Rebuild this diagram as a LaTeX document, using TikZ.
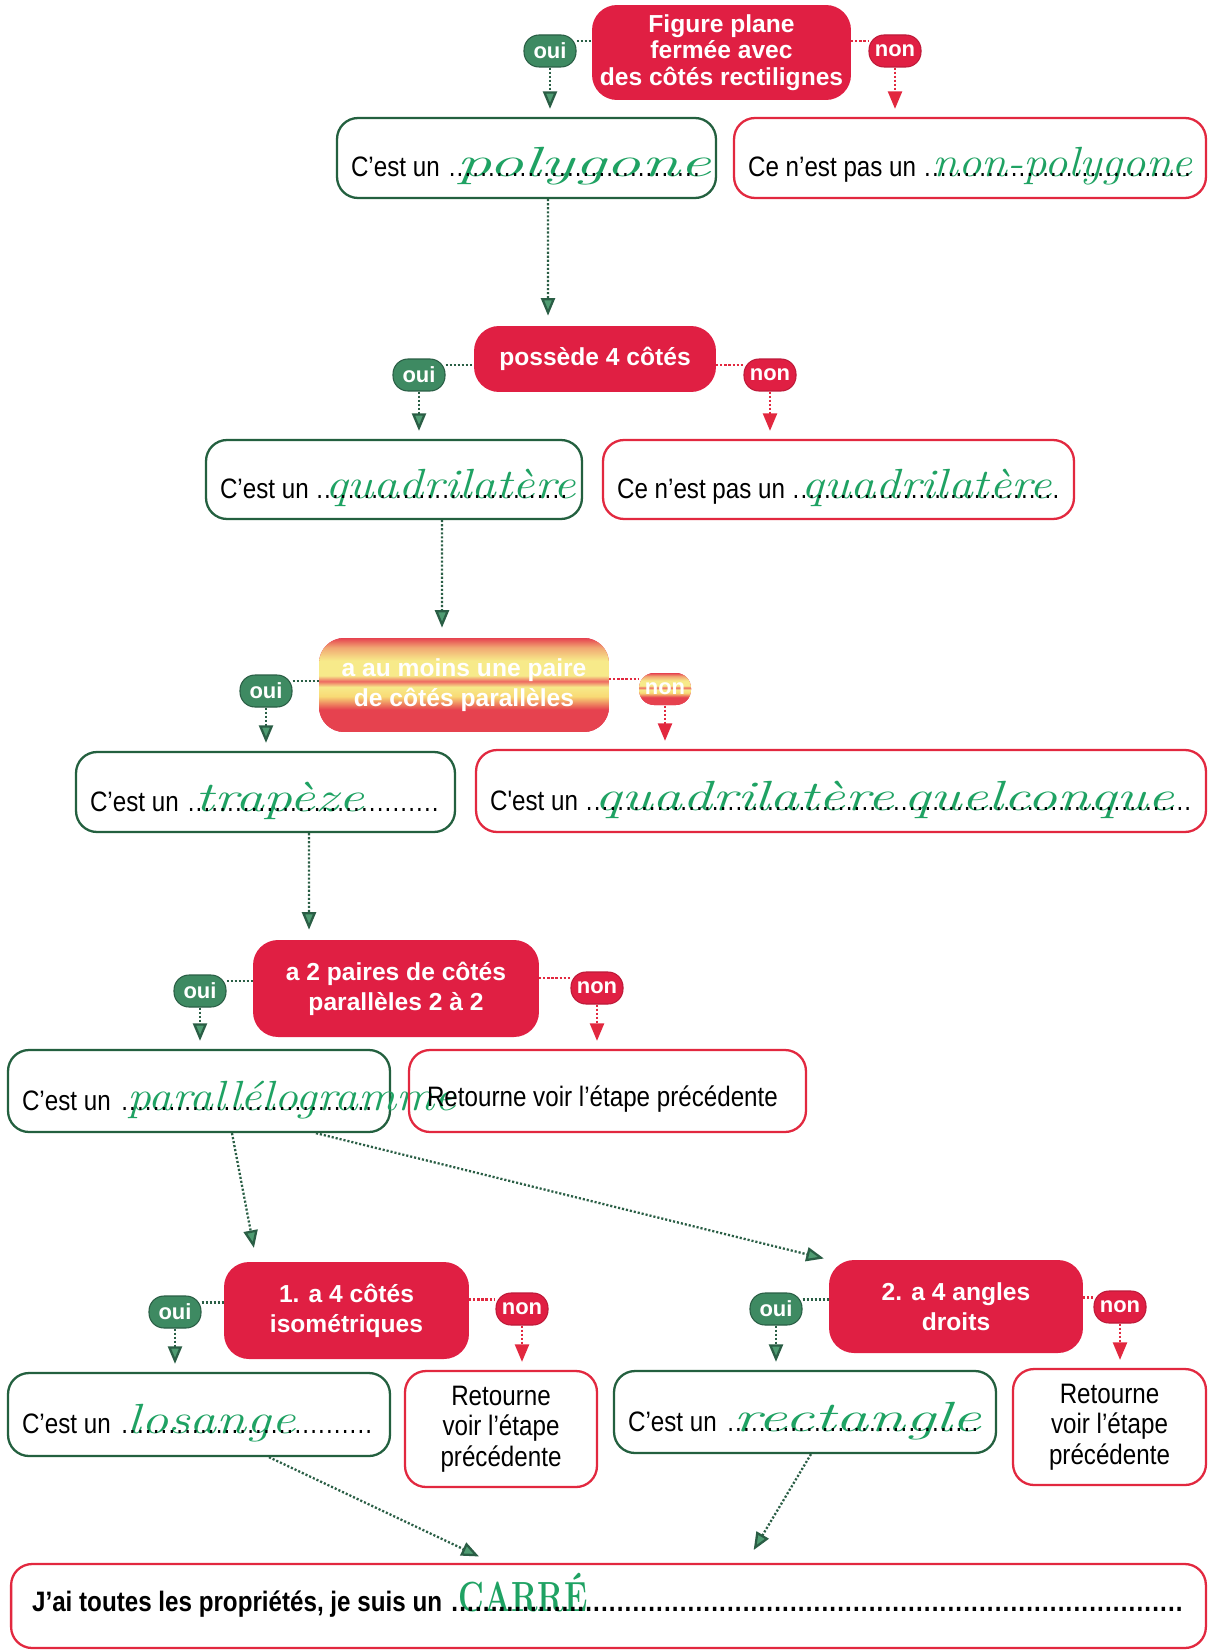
\documentclass[tikz,border=0pt]{standalone}
\usepackage{fontspec}
\usepackage{graphicx}
\usepackage{tikz}
\usetikzlibrary{arrows.meta}
\newfontfamily\bodyfamily{Liberation Sans}[FakeStretch=0.86]
\newfontfamily\qfamily{Liberation Sans}
\definecolor{qred}{HTML}{E01F43}
\definecolor{boxred}{HTML}{E2283F}
\definecolor{boxgreen}{HTML}{23603F}
\definecolor{ouigreen}{HTML}{3E8A62}
\definecolor{tipgreen}{HTML}{4F9C72}
\definecolor{dotgreen}{HTML}{2A5E45}
\definecolor{hand}{HTML}{1FA263}
\definecolor{stripeY}{HTML}{F7EA8A}
\definecolor{stripeR}{HTML}{E6424F}
\definecolor{stripeM}{HTML}{EE6A62}
\newcommand{\bodyfont}{\bodyfamily\fontsize{16}{17.5}\selectfont}
\newcommand{\carrefont}{\bodyfamily\bfseries\fontsize{16}{17.5}\selectfont}
\newcommand{\qfont}{\qfamily\bfseries\fontsize{14}{17}\selectfont}
\newcommand{\handfont}{\color{hand}\rmfamily\itshape\fontsize{24}{24}\selectfont}
% handwritten answer, stretched to the width it takes on the sheet
\newcommand{\hw}[2]{\resizebox{#1}{\height}{\handfont #2}}
\newcommand{\dotleaders}{\cleaders\hbox to 0.28em{\hss.\hss}\hskip 0pt plus 1filll\kern0pt}
\newcommand{\fillin}[2]{\rlap{\kern0.2cm\hw{#1}{#2}}\dotleaders}
\newcommand{\tightspace}{\spaceskip=0.24em\relax\xspaceskip=0.3em\relax}
% the badly printed yellow/red box
\pgfdeclareverticalshading{paleband}{100bp}{color(0bp)=(stripeR); color(25bp)=(stripeR); color(37bp)=(stripeR); color(44bp)=(stripeY!85!orange); color(49bp)=(stripeY); color(52bp)=(stripeM); color(55bp)=(stripeY); color(63bp)=(stripeY); color(70bp)=(stripeY!60!stripeR); color(75bp)=(stripeR); color(100bp)=(stripeR)}
\begin{document}
\begin{tikzpicture}[x=0.02cm, y=-0.02cm,
  qbox/.style={rounded corners=0.5cm, fill=qred, text=white, font=\qfont, align=center, inner sep=0pt},
  yesbox/.style={draw=boxgreen, line width=1.3pt, rounded corners=0.42cm, font=\bodyfont, align=left,
    text width=#1, inner xsep=0.28cm, inner ysep=0pt, minimum height=1.6cm, text height=0.86cm, text depth=0.1cm,
    execute at begin node=\tightspace},
  nobox/.style={yesbox=#1, draw=boxred},
  backbox/.style={draw=boxred, line width=1.3pt, rounded corners=0.42cm, font=\bodyfont, align=center, inner sep=0pt,
    execute at begin node=\tightspace},
  ouibub/.style={rounded corners=0.3cm, fill=ouigreen, draw=dotgreen, line width=0.6pt, text=white,
    font=\qfamily\bfseries\fontsize{12.5}{13}\selectfont, minimum width=1.04cm, minimum height=0.64cm, inner sep=0pt},
  nonbub/.style={ouibub, fill=qred, draw=qred!85!black},
  ouiline/.style={draw=dotgreen, line width=1.3pt, dash pattern=on 1.2pt off 1.1pt},
  nonline/.style={ouiline, draw=boxred},
  ouiarrow/.style={ouiline, -{Triangle[width=8pt, length=10pt, fill=tipgreen]}, shorten >=0.16cm},
  nonarrow/.style={nonline, -{Triangle[width=8pt, length=10pt, fill=boxred]}, shorten >=0.16cm},
]
\fill[white] (0,0) rectangle (1208,1652);
\useasboundingbox (0,0) rectangle (1208,1652);

% questions
\node[qbox, font=\qfamily\bfseries\fontsize{14}{15}\selectfont, minimum width=5.18cm, minimum height=1.9cm] (q1) at (721.5,52.5) {Figure plane\\fermée avec\\des côtés rectilignes};
\node[qbox, minimum width=4.84cm, minimum height=1.32cm] (q2) at (595,359) {possède 4 côtés};
\node[qbox, shade, shading=paleband, minimum width=5.8cm, minimum height=1.88cm] (q3) at (464,685) {a au moins une paire\\de côtés parallèles};
\node[qbox, minimum width=5.72cm, minimum height=1.94cm] (q4) at (396,988.5) {a 2 paires de côtés\\parallèles 2 à 2};
\node[qbox, minimum width=4.9cm, minimum height=1.94cm] (q5) at (346.5,1310.5) {1. a 4 côtés\\isométriques};
\node[qbox, minimum width=5.08cm, minimum height=1.86cm] (q6) at (956,1306.5) {2. a 4 angles\\droits};

% oui / non bubbles
\node[ouibub] (oui1) at (550,51) {oui};   \node[nonbub] (non1) at (895,51) {non};
\node[ouibub] (oui2) at (419,375) {oui};  \node[nonbub] (non2) at (770,375) {non};
\node[ouibub] (oui3) at (266,691) {oui};  \node[nonbub, shade, shading=paleband, draw=none] (non3) at (665,689) {non};
\node[ouibub] (oui4) at (200,991) {oui};  \node[nonbub] (non4) at (597,988) {non};
\node[ouibub] (oui5) at (175,1312) {oui}; \node[nonbub] (non5) at (522,1309) {non};
\node[ouibub] (oui6) at (776,1309) {oui}; \node[nonbub] (non6) at (1120,1307) {non};

% answer boxes
\node[yesbox=7.02cm] (poly) at (526.5,158) {C’est un \fillin{5.1cm}{polygone}};
\node[nobox=8.88cm] (nonpoly) at (970,158) {Ce n’est pas un \fillin{5.2cm}{non-polygone}};
\node[yesbox=6.96cm, minimum height=1.58cm] (quad) at (394,479.5) {C’est un \fillin{5cm}{quadrilatère}};
\node[nobox=8.86cm, minimum height=1.58cm] (nonquad) at (838.5,479.5) {Ce n’est pas un \fillin{5cm}{quadrilatère}};
\node[yesbox=7.02cm] (trap) at (265.5,792) {C’est un \fillin{3.38cm}{trapèze}};
\node[nobox=14.04cm, minimum height=1.64cm] (quelc) at (841,791) {C'est un \fillin{11.6cm}{quadrilatère quelconque}};
\node[yesbox=7.08cm, minimum height=1.64cm] (para) at (199,1091) {C’est un \fillin{6.56cm}{parallélogramme}};
\node[backbox, align=left, text width=7.22cm, inner xsep=0.36cm, minimum height=1.64cm, text height=0.72cm, text depth=0.1cm] (retA) at (607.5,1091) {Retourne voir l’étape précédente};
\node[yesbox=7.08cm, minimum height=1.66cm] (los) at (199,1414.5) {C’est un \fillin{3.36cm}{losange}};
\node[backbox, minimum width=3.84cm, minimum height=2.32cm] (retB) at (501,1429) {Retourne\\voir l’étape\\précédente};
\node[yesbox=7.08cm, minimum height=1.64cm] (rect) at (805,1412) {C’est un \fillin{4.96cm}{rectangle}};
\node[backbox, minimum width=3.86cm, minimum height=2.32cm] (retC) at (1109.5,1427) {Retourne\\voir l’étape\\précédente};
\node[nobox=23.06cm, font=\carrefont, inner xsep=0.42cm, minimum height=1.68cm, text height=0.5cm, text depth=0.3cm] (carre) at (608.5,1606) {J’ai toutes les propriétés, je suis un \fillin{2.58cm}{\upshape CARRÉ}};

% links from the bubbles
\foreach \n/\yes/\no in {1/poly/nonpoly, 2/quad/nonquad, 3/trap/quelc, 4/para/retA, 5/los/retB, 6/rect/retC} {
  \draw[ouiline] (oui\n.20) -- (oui\n.20 -| q\n.west);
  \draw[nonline] (q\n.east |- non\n.160) -- (non\n.160);
  \draw[ouiarrow] (oui\n.south) -- (oui\n.south |- \yes.north);
  \draw[nonarrow] (non\n.south) -- (non\n.south |- \no.north);
}

% next step
\draw[ouiarrow, shorten >=0.2cm] ([xshift=0.43cm]poly.south) -- ([xshift=-0.94cm]q2.north);
\draw[ouiarrow, shorten >=0.2cm] ([xshift=0.96cm]quad.south) -- ([xshift=-0.44cm]q3.north);
\draw[ouiarrow, shorten >=0.2cm] ([xshift=0.87cm]trap.south) -- ([xshift=-1.74cm]q4.north);
\draw[ouiarrow, shorten >=0.28cm] ([xshift=0.66cm]para.south) -- ([xshift=-1.8cm]q5.north);
\draw[ouiarrow, shorten >=0.1cm] ([xshift=2.34cm]para.south) -- (q6.north west);
\draw[ouiarrow, shorten >=0.3cm] ([xshift=1.4cm]los.south) -- ([xshift=-2.32cm]carre.north);
\draw[ouiarrow, shorten >=0.3cm] ([xshift=0.12cm]rect.south) -- ([xshift=2.75cm]carre.north);
\end{tikzpicture}
\end{document}
